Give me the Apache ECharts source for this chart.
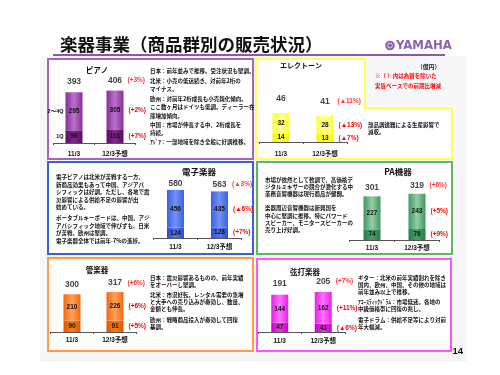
<!DOCTYPE html>
<html>
<head>
<meta charset="utf-8">
<script src="https://cdn.jsdelivr.net/npm/echarts@6/dist/echarts.min.js"></script>
<style>
  html, body { margin: 0; padding: 0; background: #fff; }
  #chart { width: 500px; height: 375px; }
</style>
</head>
<body>
<div id="chart"></div>
<script>
// 億円, 11/3 actual vs 12/3 forecast
const years = ['11/3', '12/3予想'];

const pianoQ1 = [98, 101];
const pianoQ2to4 = [295, 305];
const pianoTotal = [393, 406];
const pianoChange = ['(+3%)', '(+2%)', '(+7%)']; // total, upper, lower

const electoneLow = [14, 13];
const electoneHigh = [32, 28];
const electoneTotal = [46, 41];
const electoneChange = ['(▲11%)', '(▲13%)', '(▲7%)'];

const digitalLow = [124, 128];
const digitalHigh = [456, 435];
const digitalTotal = [580, 563];
const digitalChange = ['(▲3%)', '(▲6%)', '(+7%)'];

const paLow = [74, 76];
const paHigh = [227, 243];
const paTotal = [301, 319];
const paChange = ['(+6%)', '(+5%)', '(+9%)'];

const windLow = [90, 91];
const windHigh = [210, 226];
const windTotal = [300, 317];
const windChange = ['(+6%)', '(+6%)', '(+5%)'];

const percLow = [47, 43];
const percHigh = [144, 162];
const percTotal = [191, 205];
const percChange = ['(+7%)', '(+11%)', '(▲6%)'];

const pianoSideLabels = ['1Q', '2～4Q'];

const JP = '"Noto Sans CJK JP", sans-serif';
const NUM = '"Liberation Sans", "Noto Sans CJK JP", sans-serif';

function grad(edge, mid) {
  return {
    type: 'linear', x: 0, y: 0, x2: 1, y2: 0,
    colorStops: [
      { offset: 0, color: edge },
      { offset: 0.5, color: mid },
      { offset: 1, color: edge }
    ]
  };
}

const panels = [
  { low: pianoQ1, high: pianoQ2to4, total: pianoTotal, change: pianoChange, side: pianoSideLabels,
    grid: { left: 53.5, top: 86.2, width: 82, height: 56.8 }, max: 440, gap: 5.5, margin: 7.5,
    hi: grad('#8a2c9a', '#b873c8'), lo: grad('#5c0a66', '#7e2c8a') },
  { low: electoneLow, high: electoneHigh, total: electoneTotal, change: electoneChange,
    grid: { left: 259, top: 110.5, width: 88, height: 31.5 }, max: 50, gap: 10, margin: 8.5,
    hi: grad('#ffff3a', '#ffff8c'), lo: grad('#f6f600', '#ffff55') },
  { low: digitalLow, high: digitalHigh, total: digitalTotal, change: digitalChange,
    grid: { left: 153.5, top: 188.3, width: 88, height: 49.7 }, max: 600, gap: 2, margin: 5.5,
    hi: grad('#3b61e4', '#7291f6'), lo: grad('#2b4ed6', '#5878ee') },
  { low: paLow, high: paHigh, total: paTotal, change: paChange,
    grid: { left: 349.5, top: 190.7, width: 90, height: 49.3 }, max: 340, gap: 3.5, margin: 4.7,
    hi: grad('#3f9662', '#94cfa4'), lo: grad('#287c4a', '#4f9e6a') },
  { low: windLow, high: windHigh, total: windTotal, change: windChange,
    grid: { left: 50.5, top: 289.2, width: 86, height: 42.8 }, max: 340, gap: 4.5, margin: 4.7,
    hi: grad('#f06810', '#ffa25a'), lo: grad('#dc5600', '#f4801e') },
  { low: percLow, high: percHigh, total: percTotal, change: percChange,
    grid: { left: 258, top: 287.1, width: 87, height: 44.9 }, max: 230, gap: 6, margin: 5.7,
    hi: grad('#e620e6', '#ff70ff'), lo: grad('#c800c8', '#e838e8') }
];

const BW = 17;
const inLabel = { show: true, position: 'inside', color: '#111', fontSize: 6.5, fontWeight: 'bold', fontFamily: NUM };
const redLabel = { color: '#ff0000', fontSize: 6.5, fontWeight: 'bold', fontFamily: NUM };

function overlayItem(v, j, p, changeIdx, sideIdx) {
  if (j === 1) {
    return { value: v, label: { show: true, position: 'right', distance: 5, formatter: p.change[changeIdx], ...redLabel } };
  }
  if (p.side) {
    return { value: v, label: { show: true, position: 'left', distance: 2, formatter: p.side[sideIdx],
      color: '#111', fontSize: 5.5, fontWeight: 'bold', fontFamily: NUM } };
  }
  return { value: v };
}

const grids = [], xAxes = [], yAxes = [], series = [];
panels.forEach((p, i) => {
  grids.push(p.grid);
  xAxes.push({
    type: 'category', gridIndex: i, data: years,
    axisLine: { lineStyle: { color: '#555', width: 1 } },
    axisTick: { show: true, length: 2, lineStyle: { color: '#555' } },
    axisLabel: { margin: p.margin, color: '#111', fontSize: 6.5, fontWeight: 'bold', fontFamily: NUM }
  });
  yAxes.push({ type: 'value', gridIndex: i, min: 0, max: p.max, show: false, splitLine: { show: false } });
  const base = { type: 'bar', xAxisIndex: i, yAxisIndex: i, barWidth: BW, barGap: '-100%' };
  series.push(
    { ...base, stack: 'v' + i, data: p.low, itemStyle: { color: p.lo }, label: inLabel },
    { ...base, stack: 'v' + i, data: p.high, itemStyle: { color: p.hi }, label: inLabel },
    { ...base, stack: 'c' + i, data: p.low.map((v, j) => overlayItem(v, j, p, 2, 0)), itemStyle: { color: 'rgba(0,0,0,0)' } },
    { ...base, stack: 'c' + i, data: p.high.map((v, j) => overlayItem(v, j, p, 1, 1)), itemStyle: { color: 'rgba(0,0,0,0)' } },
    { type: 'scatter', xAxisIndex: i, yAxisIndex: i, symbolSize: 1, itemStyle: { color: 'rgba(0,0,0,0)' },
      data: p.total,
      label: { show: true, position: 'top', distance: p.gap, formatter: '{c}', color: '#111',
        fontSize: 8.5, fontWeight: 'bold', fontFamily: NUM } },
    { type: 'scatter', xAxisIndex: i, yAxisIndex: i, symbolSize: 1, itemStyle: { color: 'rgba(0,0,0,0)' },
      data: ['-', p.total[1]],
      label: { show: true, position: 'top', distance: p.gap + 1, align: 'left', offset: [BW / 2 + 4, 0],
        formatter: p.change[0], ...redLabel } }
  );
});

function txt(x, y, text, opt) {
  return {
    type: 'text', z: 1, x: x, y: y,
    style: Object.assign({
      text: text, fill: '#111', fontSize: 5.5, fontWeight: 'bold', fontFamily: JP,
      lineHeight: 7.5, verticalAlign: 'top', align: 'left'
    }, opt || {})
  };
}

function box(x, y, w, h, color) {
  return { type: 'rect', z: 0, shape: { x: x, y: y, width: w, height: h },
    style: { fill: '#fff', stroke: color, lineWidth: 2 } };
}

const graphics = [
  { type: 'rect', z: -1, shape: { x: 40, y: 56, width: 427, height: 306 }, style: { fill: '#f7f7f7' } },
  txt(60, 44, '楽器事業（商品群別の販売状況）', { fontSize: 17.5, verticalAlign: 'middle', fill: '#111' }),
  { type: 'line', z: 1, shape: { x1: 53, y1: 55, x2: 445, y2: 55 }, style: { stroke: '#8a5aaa', lineWidth: 2 } },
  { type: 'circle', z: 1, shape: { cx: 390, cy: 45.5, r: 4.8 }, style: { fill: '#8b62b0' } },
  { type: 'circle', z: 1, shape: { cx: 390, cy: 45.5, r: 2.4 }, style: { fill: 'none', stroke: '#e6dcef', lineWidth: 0.9 } },
  txt(396, 45.5, 'YAMAHA', { fontSize: 13, verticalAlign: 'middle', fill: '#8b62b0',
    fontFamily: '"Liberation Sans Narrow", "DejaVu Sans Condensed", sans-serif' }),

  box(48, 59, 205, 100, '#a566ba'),
  { type: 'polygon', z: 0, shape: { points: [[256, 59], [365, 59], [365, 108], [452, 108], [452, 159], [256, 159]] },
    style: { fill: '#fff', stroke: '#ffff55', lineWidth: 2 } },
  box(48, 162, 205, 92, '#3a5fd9'),
  box(257, 162, 195, 92, '#5cb85c'),
  box(48, 258, 205, 93, '#ff9a4a'),
  box(257, 259, 194, 92, '#ff55ff'),

  // panel titles
  txt(97, 70, 'ピアノ', { fontSize: 7.5, align: 'center', verticalAlign: 'middle' }),
  txt(301, 65, 'エレクトーン', { fontSize: 7, align: 'center', verticalAlign: 'middle' }),
  txt(199, 172, '電子楽器', { fontSize: 8.5, align: 'center', verticalAlign: 'middle' }),
  txt(398, 172, 'PA機器', { fontSize: 8.5, align: 'center', verticalAlign: 'middle' }),
  txt(97, 270, '管楽器', { fontSize: 7.5, align: 'center', verticalAlign: 'middle' }),
  txt(305, 272, '弦打楽器', { fontSize: 7.5, align: 'center', verticalAlign: 'middle' }),

  // notes
  txt(417, 67, '（億円）', { fontSize: 5.8, verticalAlign: 'middle' }),
  txt(375, 70.5, '※（ ）内は為替を除いた\n実質ベースでの前期比増減', { fill: '#ff0000', lineHeight: 10 }),

  // piano
  txt(150, 67, '日本：前年並みで推移。受注状況も堅調。'),
  txt(150, 77.5, '北米：小売の低迷続き、対前年2桁の\nマイナス。'),
  txt(150, 94.5, '欧州：対前年2桁成長も小売鈍化傾向。\nここ数ヶ月はドイツも低調。ディーラー在\n庫増加傾向。', { lineHeight: 8.5 }),
  txt(150, 121.5, '中国：市場が伸長する中、2桁成長を\n持続。'),
  txt(150, 138.5, 'ｱｼﾞｱ：一部地域を除き全般に好調推移。'),

  // electone
  txt(368, 121.5, '部品調達難による生産影響で\n減収。', { lineHeight: 7 }),

  // digital
  txt(56, 173.5, '電子ピアノは北米が苦戦する一方、\n新商品効果もあって中国、アジアパ\nシフィックは好調。ただし、各地で震\n災影響による供給不足の影響が出\n始めている。'),
  txt(56, 214.5, 'ポータブルキーボードは、中国、アジ\nアパシフィック地域で伸びずも、日米\nが苦戦、欧州は堅調。'),
  txt(56, 237.5, '電子楽器全体では前年-7%の進捗。'),

  // PA
  txt(265, 176.5, '市場が依然として軟調で、高価格デ\nジタルミキサーの競合が激化する中\n業務音響機器は現行商品が健闘。', { lineHeight: 7 }),
  txt(265, 204.5, '楽器周辺音響機器は新興国を\n中心に堅調に推移。特にパワード\nスピーカー、モニタースピーカーの\n売り上げ好調。', { lineHeight: 7.3 }),

  // wind
  txt(150, 274.5, '日本：震災影響あるものの、前年実績\nをオーバーし堅調。', { lineHeight: 7 }),
  txt(150, 291.5, '北米：市況好転。レンタル需要の急増\nと大手への売り込みが奏効し、数量、\n金額とも伸長。', { lineHeight: 6.8 }),
  txt(150, 316.5, '欧州：戦略商品投入が奏効して回復\n基調。', { lineHeight: 7 }),

  // percussion
  txt(358, 274.5, 'ギター：北米の前年実績割れを除き\n国内、欧州、中国、その他の地域は\n前年並み以上で推移。', { lineHeight: 7 }),
  txt(358, 298.5, 'ｱｺｰｽﾃｨｯｸﾄﾞﾗﾑ：市場低迷。各地の\n中級価格帯に回復の兆し。', { lineHeight: 7 }),
  txt(358, 316.5, '電子ドラム：供給不足等により対前\n年大幅減。', { lineHeight: 7 }),

  txt(452.5, 351.5, '14', { fontSize: 9.5, verticalAlign: 'middle', fontFamily: NUM })
];

const myChart = echarts.init(document.getElementById('chart'), null, { renderer: 'canvas' });
myChart.setOption({
  animation: false,
  backgroundColor: '#fff',
  grid: grids,
  xAxis: xAxes,
  yAxis: yAxes,
  series: series,
  graphic: { elements: graphics }
});
</script>
</body>
</html>
